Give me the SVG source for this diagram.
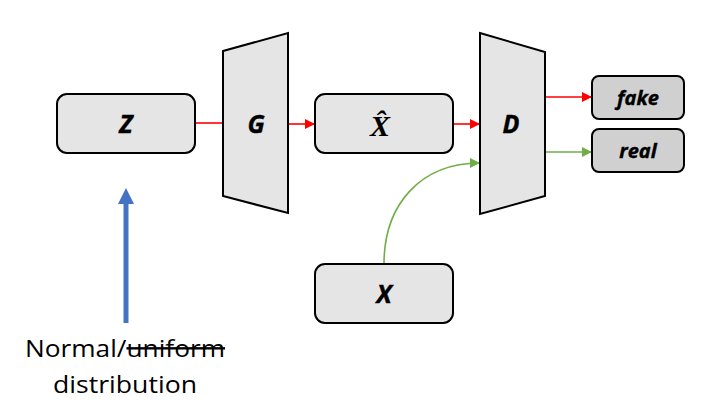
<svg xmlns="http://www.w3.org/2000/svg" width="701" height="414" viewBox="0 0 701 414">
<defs>
<style>
.box{fill:#e5e5e5;stroke:#000;stroke-width:2}
.out{fill:#d0d0d0;stroke:#000;stroke-width:2}
.lbl{font-family:"Open Sans","Liberation Sans",sans-serif;font-weight:bold;font-style:italic;font-size:25px;text-anchor:middle;fill:#000;stroke:#000;stroke-width:0.4}
.sm{font-size:20px}
.red{stroke:#ff0000;stroke-width:1.6;fill:none}
.grn{stroke:#70ad47;stroke-width:1.6;fill:none}
.cap{font-family:"Open Sans","Liberation Sans",sans-serif;font-size:24px;fill:#000}
</style>
<marker id="ar" viewBox="0 0 10 10" refX="10" refY="5" markerWidth="10" markerHeight="10" markerUnits="userSpaceOnUse" orient="auto"><path d="M0,0 L10,5 L0,10 z" fill="#ff0000"/></marker>
<marker id="ag" viewBox="0 0 10 10" refX="10" refY="5" markerWidth="10" markerHeight="10" markerUnits="userSpaceOnUse" orient="auto"><path d="M0,0 L10,5 L0,10 z" fill="#70ad47"/></marker>
</defs>
<rect width="701" height="414" fill="#fff"/>
<g id="connectors">
<line class="red" x1="195" y1="123" x2="223" y2="123"/>
<line class="red" x1="288" y1="124" x2="315" y2="124" marker-end="url(#ar)"/>
<line class="red" x1="453" y1="124" x2="480" y2="124" marker-end="url(#ar)"/>
<line class="red" x1="545" y1="97" x2="592" y2="97" marker-end="url(#ar)"/>
<line class="grn" x1="545" y1="152" x2="592" y2="152" marker-end="url(#ag)"/>
<path class="grn" d="M384,264 C384,205 420,163 480,163" marker-end="url(#ag)"/>
<line x1="126" y1="323" x2="126" y2="200" stroke="#4472c4" stroke-width="5"/>
<path d="M118,204 L126,188 L134,204 z" fill="#4472c4"/>
</g>
<g id="Z">
<rect class="box" x="57" y="94" width="138" height="59" rx="10"/>
<text class="lbl" x="126" y="133">Z</text>
</g>
<g id="G">
<path class="box" d="M223,51 L288,33 L288,213 L223,196 z"/>
<text class="lbl" x="256" y="133">G</text>
</g>
<g id="Xhat">
<rect class="box" x="315" y="94" width="138" height="59" rx="10"/>
<text x="380" y="136" font-family="'Liberation Serif',serif" font-style="italic" font-weight="bold" font-size="30" text-anchor="middle">X̂</text>
</g>
<g id="D">
<path class="box" d="M480,33 L545,52 L545,196 L480,214 z"/>
<text class="lbl" x="511" y="133">D</text>
</g>
<g id="X">
<rect class="box" x="315" y="264" width="138" height="59" rx="10"/>
<text class="lbl" x="384" y="303">X</text>
</g>
<g id="fake">
<rect class="out" x="592" y="76" width="92" height="43" rx="7"/>
<text class="lbl sm" x="638" y="105">fake</text>
</g>
<g id="real">
<rect class="out" x="592" y="129" width="92" height="43" rx="7"/>
<text class="lbl sm" x="638" y="158">real</text>
</g>
<g id="caption">
<text class="cap" x="25" y="357" textLength="200" lengthAdjust="spacingAndGlyphs">Normal/<tspan text-decoration="line-through">uniform</tspan></text>
<text class="cap" x="53" y="393" textLength="144" lengthAdjust="spacingAndGlyphs">distribution</text>
</g>
</svg>
